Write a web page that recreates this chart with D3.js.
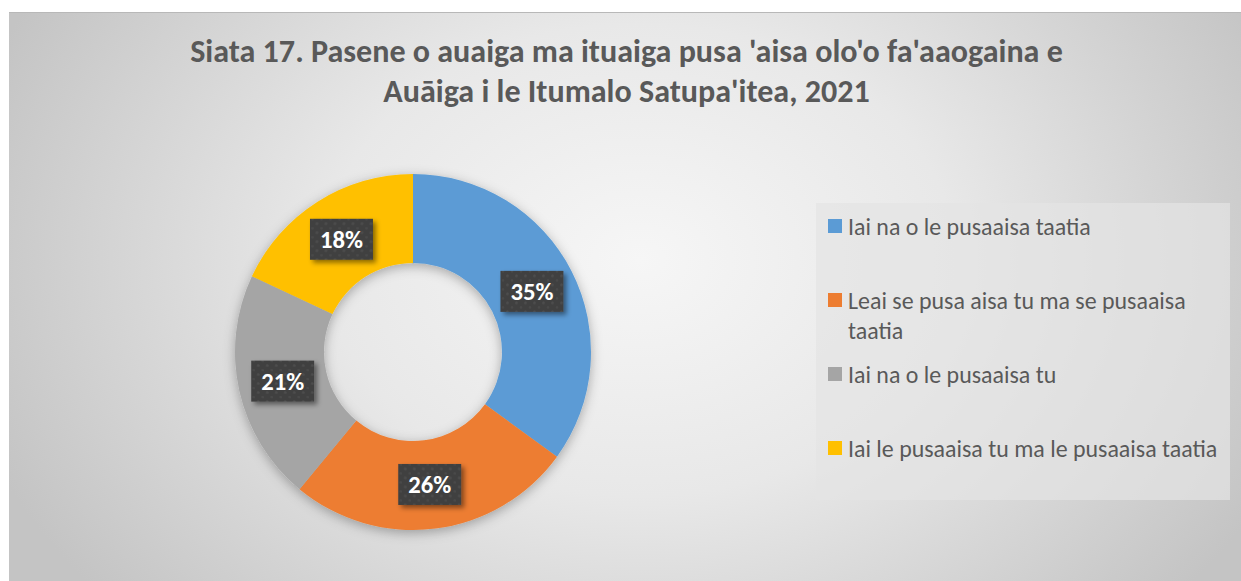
<!DOCTYPE html>
<html>
<head>
<meta charset="utf-8">
<script src="https://cdn.jsdelivr.net/npm/d3@7"></script>
<style>
  html, body { margin: 0; padding: 0; background: #ffffff; }
  svg { display: block; }
</style>
</head>
<body>
<svg id="chart" width="1241" height="581"></svg>
<script>
// ---- data ----
const titleLines = [
  "Siata 17. Pasene o auaiga ma ituaiga pusa 'aisa olo'o fa'aaogaina e",
  "Auāiga i le Itumalo Satupa'itea, 2021"
];
const categories = [
  "Iai na o le pusaaisa taatia",
  "Leai se pusa aisa tu ma se pusaaisa taatia",
  "Iai na o le pusaaisa tu",
  "Iai le pusaaisa tu ma le pusaaisa taatia"
];
const values = [35, 26, 21, 18];
const colors = ["#5B9BD5", "#ED7D31", "#A5A5A5", "#FFC000"];

// ---- layout ----
const W = 1241, H = 581;
const FONT = "Carlito, 'Open Sans', 'Liberation Sans', sans-serif";
const svg = d3.select("#chart");
const defs = svg.append("defs");

// background gradient
const bg = defs.append("radialGradient").attr("id", "bgGrad")
  .attr("gradientUnits", "userSpaceOnUse")
  .attr("cx", 640).attr("cy", 260).attr("r", 700)
  .attr("gradientTransform", "translate(640,260) scale(1,0.75) translate(-640,-260)");
bg.append("stop").attr("offset", "0%").attr("stop-color", "#f6f6f6");
bg.append("stop").attr("offset", "45%").attr("stop-color", "#e8e8e8");
bg.append("stop").attr("offset", "100%").attr("stop-color", "#c4c4c4");

// shadows
const ds = defs.append("filter").attr("id", "donutShadow")
  .attr("x", "-20%").attr("y", "-20%").attr("width", "140%").attr("height", "140%");
ds.append("feDropShadow").attr("dx", 0).attr("dy", 3).attr("stdDeviation", 6)
  .attr("flood-color", "#000").attr("flood-opacity", 0.3);

const ls = defs.append("filter").attr("id", "labelShadow")
  .attr("x", "-30%").attr("y", "-30%").attr("width", "170%").attr("height", "170%");
ls.append("feDropShadow").attr("dx", 3).attr("dy", 3).attr("stdDeviation", 2.5)
  .attr("flood-color", "#000").attr("flood-opacity", 0.45);

// dotted pattern for label boxes
const pat = defs.append("pattern").attr("id", "dots")
  .attr("patternUnits", "userSpaceOnUse").attr("width", 9).attr("height", 9);
pat.append("rect").attr("width", 9).attr("height", 9).attr("fill", "#404040");
pat.append("circle").attr("cx", 2.5).attr("cy", 2.5).attr("r", 1.3).attr("fill", "#4f4f4f");
pat.append("circle").attr("cx", 7).attr("cy", 7).attr("r", 1.3).attr("fill", "#4a4a4a");

// chart area
svg.append("rect").attr("x", 9).attr("y", 12).attr("width", W - 9).attr("height", H - 12)
  .attr("fill", "url(#bgGrad)");
svg.append("line").attr("x1", 9).attr("x2", W).attr("y1", 12.5).attr("y2", 12.5)
  .attr("stroke", "#b8b8b8").attr("stroke-width", 1);

// helper: fit font size to a target width
function fitSize(text, weight, targetW) {
  const t = svg.append("text").attr("font-family", FONT).attr("font-weight", weight)
    .attr("font-size", 100).text(text);
  const w = t.node().getComputedTextLength();
  t.remove();
  return 100 * targetW / w;
}

// ---- title ----
const titleSize = fitSize(titleLines[0], "bold", 873);
const titleBase = [62, 102];
svg.append("g").selectAll("text").data(titleLines).join("text")
  .attr("x", 626.5).attr("y", (d, i) => titleBase[i])
  .attr("text-anchor", "middle")
  .attr("font-family", FONT).attr("font-weight", "bold")
  .attr("font-size", titleSize).attr("fill", "#595959")
  .text(d => d);

// ---- donut ----
const cx = 413, cy = 352, R = 178, r = 89;
const data = categories.map((c, i) => ({ cat: c, value: values[i], color: colors[i] }));
const total = d3.sum(values);
const pie = d3.pie().sort(null).value(d => d.value);
const arc = d3.arc().innerRadius(r).outerRadius(R);
const arcs = pie(data);

const g = svg.append("g").attr("transform", `translate(${cx},${cy})`);
g.append("g").attr("filter", "url(#donutShadow)")
  .selectAll("path").data(arcs).join("path")
  .attr("d", arc).attr("fill", d => d.data.color);

// data labels
const labelSize = fitSize("18%", "bold", 43);
const fmt = d3.format(".0%");
const lg = g.append("g").selectAll("g").data(arcs).join("g")
  .attr("transform", d => `translate(${arc.centroid(d)})`);
lg.each(function(d) {
  const sel = d3.select(this);
  const txt = fmt(d.data.value / total);
  const t = sel.append("text").attr("font-family", FONT).attr("font-weight", "bold")
    .attr("font-size", labelSize).attr("fill", "#ffffff")
    .attr("text-anchor", "middle").attr("dy", "0.36em").text(txt);
  const w = t.node().getComputedTextLength();
  const bw = Math.max(62, w + 20), bh = 41;
  sel.insert("rect", "text")
    .attr("x", -bw / 2).attr("y", -bh / 2).attr("width", bw).attr("height", bh)
    .attr("fill", "url(#dots)").attr("filter", "url(#labelShadow)");
});

// ---- legend ----
svg.append("rect").attr("x", 816).attr("y", 203).attr("width", 414).attr("height", 297)
  .attr("fill", "#e4e4e4").attr("fill-opacity", 0.7);

const legSize = fitSize(categories[0], "normal", 243);
const legMaxW = 372;
const legX = 828, legTextX = 848, legY0 = 226, legStep = 74, lineH = 30;

const leg = svg.append("g").selectAll("g").data(data).join("g")
  .attr("transform", (d, i) => `translate(0,${legY0 + i * legStep})`);
leg.append("rect").attr("x", legX).attr("y", -7).attr("width", 14).attr("height", 14)
  .attr("fill", d => d.color);
leg.each(function(d) {
  const sel = d3.select(this);
  const t = sel.append("text").attr("font-family", FONT).attr("font-size", legSize)
    .attr("fill", "#595959");
  // word wrap
  const words = d.cat.split(" ");
  let line = [], lineNo = 0;
  let ts = t.append("tspan").attr("x", legTextX).attr("y", 0).attr("dy", "0.36em");
  for (const wd of words) {
    line.push(wd);
    ts.text(line.join(" "));
    if (ts.node().getComputedTextLength() > legMaxW && line.length > 1) {
      line.pop();
      ts.text(line.join(" "));
      line = [wd];
      lineNo++;
      ts = t.append("tspan").attr("x", legTextX).attr("y", lineNo * lineH)
        .attr("dy", "0.36em").text(wd);
    }
  }
});
</script>
</body>
</html>
